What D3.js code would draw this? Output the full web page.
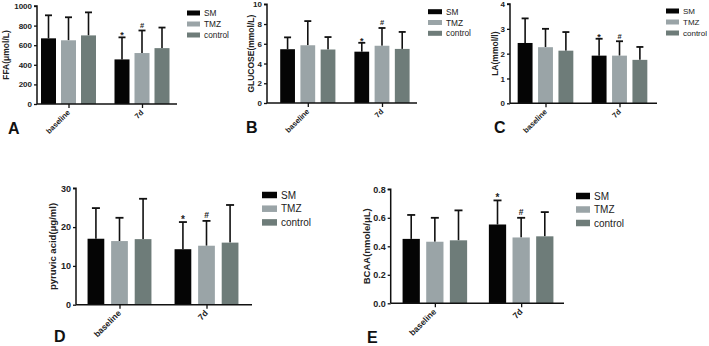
<!DOCTYPE html>
<html><head><meta charset="utf-8">
<script src="https://cdn.jsdelivr.net/npm/d3@7"></script>
<style>
body{margin:0;background:#fff;}
svg{display:block;font-family:"Liberation Sans",Arial,sans-serif;}
</style></head>
<body>
<svg id="c" width="709" height="346"></svg>
<script>
const groups = ["baseline", "7d"];
const series = ["SM", "TMZ", "control"];
const colors = ["#050505", "#9aa4a7", "#6e7c79"];

// values: [series][group]
const ffaMean = [[670, 455], [650, 520], [700, 570]];
const ffaErr  = [[905, 680], [885, 750], [935, 780]];
const gluMean = [[5.45, 5.2], [5.85, 5.8], [5.42, 5.48]];
const gluErr  = [[6.65, 6.1], [8.3, 7.6], [6.68, 7.2]];
const laMean  = [[2.43, 1.92], [2.26, 1.92], [2.12, 1.75]];
const laErr   = [[3.42, 2.6], [3.0, 2.5], [2.87, 2.27]];
const pyrMean = [[17.0, 14.3], [16.4, 15.2], [16.9, 16.0]];
const pyrErr  = [[24.9, 21.3], [22.4, 21.6], [27.3, 25.7]];
const bcaaMean = [[0.452, 0.553], [0.432, 0.462], [0.442, 0.470]];
const bcaaErr  = [[0.620, 0.722], [0.600, 0.600], [0.652, 0.640]];

const ffaTicks = [0, 200, 400, 600, 800, 1000];
const gluTicks = [0, 2, 4, 6, 8, 10];
const laTicks = [0, 1, 2, 3, 4];
const pyrTicks = [0, 10, 20, 30];
const bcaaTicks = [0.0, 0.2, 0.4, 0.6, 0.8];

// significance marks: [series][group]
const marks = [["", "*"], ["", "#"], ["", ""]];

const svg = d3.select("#c");

function panel(o) {
  const g = svg.append("g");
  const y = d3.scaleLinear().domain([0, o.ticks[o.ticks.length - 1]]).range([o.bottom, o.top]);
  const xg = d3.scaleBand().domain(groups).range(o.groupRange);
  const xs = d3.scaleBand().domain(series).range([0, xg.bandwidth()])
    .paddingInner(o.pi).paddingOuter(o.po);
  const fs = o.fs;

  // bars
  series.forEach((s, si) => {
    groups.forEach((gr, gi) => {
      const x0 = xg(gr) + xs(s), w = xs.bandwidth();
      const v = o.mean[si][gi], e = o.err[si][gi];
      const cx = x0 + w / 2;
      g.append("line").attr("x1", cx).attr("x2", cx)
        .attr("y1", y(v)).attr("y2", y(e))
        .attr("stroke", "#111").attr("stroke-width", 1.6);
      g.append("line").attr("x1", cx - o.cap / 2).attr("x2", cx + o.cap / 2)
        .attr("y1", y(e)).attr("y2", y(e))
        .attr("stroke", "#111").attr("stroke-width", 1.8);
      g.append("rect").attr("x", x0).attr("y", y(v))
        .attr("width", w).attr("height", y(0) - y(v))
        .attr("fill", colors[si]);
      const m = marks[si][gi];
      if (m) {
        g.append("text").attr("x", cx).attr("y", y(e) - (m === "*" ? -1 : 2.5))
          .attr("text-anchor", "middle").attr("font-size", m === "*" ? fs + 1 : fs - 0.5)
          .attr("font-weight", "bold").attr("fill", "#222").text(m);
      }
    });
  });

  // y axis
  const ya = d3.axisLeft(y).tickValues(o.ticks).tickSize(3).tickPadding(2)
    .tickFormat(o.fmt || (d => d));
  const yg = g.append("g").attr("transform", `translate(${o.left},0)`).call(ya);
  yg.select(".domain").attr("stroke", "#111").attr("stroke-width", 1.5).attr("d", `M-3,${o.top}H0V${o.bottom}`);
  yg.selectAll(".tick line").attr("stroke", "#111").attr("stroke-width", 1.3);
  yg.selectAll("text").attr("font-size", fs).attr("font-weight", "bold").attr("fill", "#222")
    .attr("font-family", "Liberation Sans, Arial, sans-serif");

  // x axis
  const xa = d3.axisBottom(d3.scalePoint().domain(groups).range([xg("baseline") + xg.bandwidth() / 2, xg("7d") + xg.bandwidth() / 2]))
    .tickSize(4).tickFormat("");
  const xgA = g.append("g").attr("transform", `translate(0,${o.bottom})`).call(xa);
  xgA.select(".domain").attr("stroke", "#111").attr("stroke-width", 1.5)
    .attr("d", `M${o.left},0H${o.right}`);
  xgA.selectAll(".tick line").attr("stroke", "#111").attr("stroke-width", 1.3);
  groups.forEach(gr => {
    const cx = xg(gr) + xg.bandwidth() / 2;
    g.append("text").attr("transform", `translate(${cx + 2},${o.bottom + 9}) rotate(-45)`)
      .attr("text-anchor", "end").attr("font-size", o.xfs).attr("font-weight", "bold")
      .attr("fill", "#222").text(gr);
  });

  // y label
  g.append("text").attr("transform", `translate(${o.ylx},${(o.top + o.bottom) / 2}) rotate(-90)`)
    .attr("text-anchor", "middle").attr("dominant-baseline", "central")
    .attr("font-size", o.ylfs).attr("font-weight", "bold").attr("fill", "#222").text(o.ylabel);

  // panel letter
  g.append("text").attr("x", o.letter[0]).attr("y", o.letter[1])
    .attr("font-size", 16).attr("font-weight", "bold").attr("fill", "#111").text(o.letterText);

  // legend
  series.forEach((s, si) => {
    const yy = o.leg[1] + si * o.legStep;
    g.append("rect").attr("x", o.leg[0]).attr("y", yy - o.sw[1] / 2)
      .attr("width", o.sw[0]).attr("height", o.sw[1]).attr("fill", colors[si]);
    g.append("text").attr("x", o.leg[0] + o.sw[0] + 4).attr("y", yy)
      .attr("dominant-baseline", "central").attr("font-size", o.lfs)
      .attr("fill", "#222").text(s);
  });
}

panel({ mean: ffaMean, err: ffaErr, ticks: ffaTicks, top: 6, bottom: 104, left: 37, right: 177,
  groupRange: [31.75, 178.75], pi: 0.25, po: 0.4625, cap: 7, fs: 8, xfs: 7.5, ylx: 6, ylfs: 8.5,
  ylabel: "FFA(μmol/L)", letter: [8, 134], letterText: "A",
  leg: [187, 13], legStep: 11, sw: [13, 5], lfs: 8.3 });

panel({ mean: gluMean, err: gluErr, ticks: gluTicks, top: 4.3, bottom: 103, left: 267, right: 417,
  groupRange: [270.7, 419.1], pi: 0.27, po: 0.47, cap: 7, fs: 8, xfs: 7.5, ylx: 251, ylfs: 8.5,
  ylabel: "GLUCOSE(mmol/L)", letter: [246, 133], letterText: "B",
  leg: [428, 11.7], legStep: 10.8, sw: [14, 5], lfs: 8.3 });

panel({ mean: laMean, err: laErr, ticks: laTicks, top: 4, bottom: 103.3, left: 510, right: 657,
  groupRange: [508.5, 656.5], pi: 0.27, po: 0.45, cap: 7, fs: 8, xfs: 7.5, ylx: 495, ylfs: 8.5,
  ylabel: "LA(mmol/l)", letter: [494, 133], letterText: "C",
  leg: [666, 11], legStep: 11, sw: [13, 5], lfs: 8 });

panel({ mean: pyrMean, err: pyrErr, ticks: pyrTicks, top: 188.3, bottom: 304.7, left: 76, right: 252,
  groupRange: [76, 250], pi: 0.29, po: 0.49, cap: 8, fs: 9, xfs: 8.5, ylx: 52, ylfs: 9.5,
  ylabel: "pyruvic acid(μg/ml)", letter: [54, 342], letterText: "D",
  leg: [262, 195], legStep: 13.7, sw: [15, 6.5], lfs: 10 });

panel({ mean: bcaaMean, err: bcaaErr, ticks: bcaaTicks, top: 189.3, bottom: 303.3, left: 390.7, right: 564,
  groupRange: [391.7, 564.3], pi: 0.27, po: 0.46, cap: 8, fs: 9, xfs: 8.5, ylx: 366.7, ylfs: 9.5,
  ylabel: "BCAA(nmole/μL)", fmt: d3.format(".1f"), letter: [367, 343], letterText: "E",
  leg: [576, 196], legStep: 13.5, sw: [14, 6.5], lfs: 10 });
</script>
</body></html>
